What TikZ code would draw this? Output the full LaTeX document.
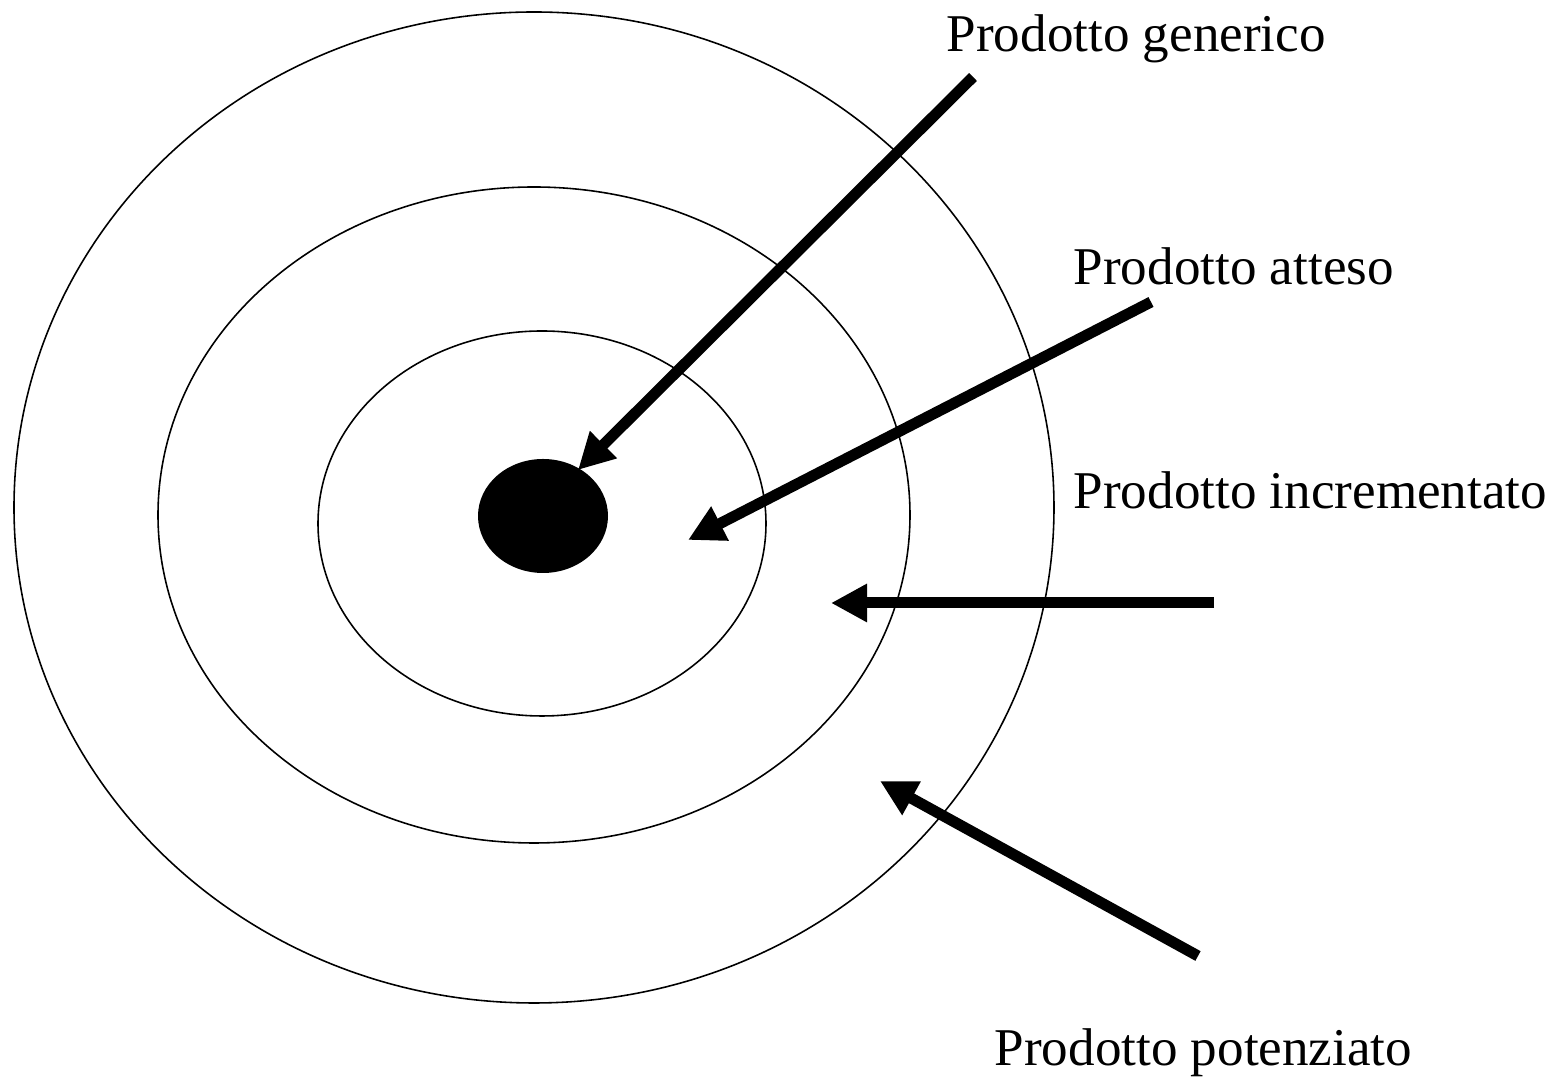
\documentclass[tikz,border=0pt]{standalone}
\usepackage{fontspec}
\setmainfont{Liberation Serif}
\usetikzlibrary{arrows.meta,positioning}

\begin{document}
\begin{tikzpicture}[
  x=0.01cm,y=-0.01cm,
  ring/.style={draw,line width=0.45pt},
  arr/.style={-{Triangle[length=0.36cm,width=0.36cm]},line width=0.11cm},
  lbl/.style={anchor=base west,inner sep=0pt,font=\fontsize{15.1pt}{18pt}\selectfont}
]
  \useasboundingbox (0,0) rectangle (1562,1080);
  % livelli del prodotto
  \draw[ring] (534,507.5) ellipse [x radius=520,y radius=495.5];
  \draw[ring] (534,515) ellipse [x radius=376,y radius=328];
  \draw[ring] (542,523.5) ellipse [x radius=224,y radius=192.5];
  \fill (543,516) ellipse [x radius=65,y radius=57];
  % etichette
  \node[lbl] (gen) at (946,52) {Prodotto generico};
  \node[lbl] (att) at (1073,285) {Prodotto atteso};
  \node[lbl] (inc) at (1073,509) {Prodotto incrementato};
  \node[lbl] (pot) at (994,1066) {Prodotto potenziato};
  % frecce
  \coordinate (gen-s) at (973,77);
  \coordinate (gen-e) at (578,470);
  \coordinate (att-s) at (1151,302);
  \coordinate (att-e) at (688,540);
  \coordinate (inc-s) at (1214,603);
  \coordinate (inc-e) at (831,603);
  \coordinate (pot-s) at (1198,956);
  \coordinate (pot-e) at (880,781);
  \draw[arr] (gen-s)--(gen-e);
  \draw[arr] (att-s)--(att-e);
  \draw[arr] (inc-s)--(inc-e);
  \draw[arr] (pot-s)--(pot-e);
\end{tikzpicture}
\end{document}
